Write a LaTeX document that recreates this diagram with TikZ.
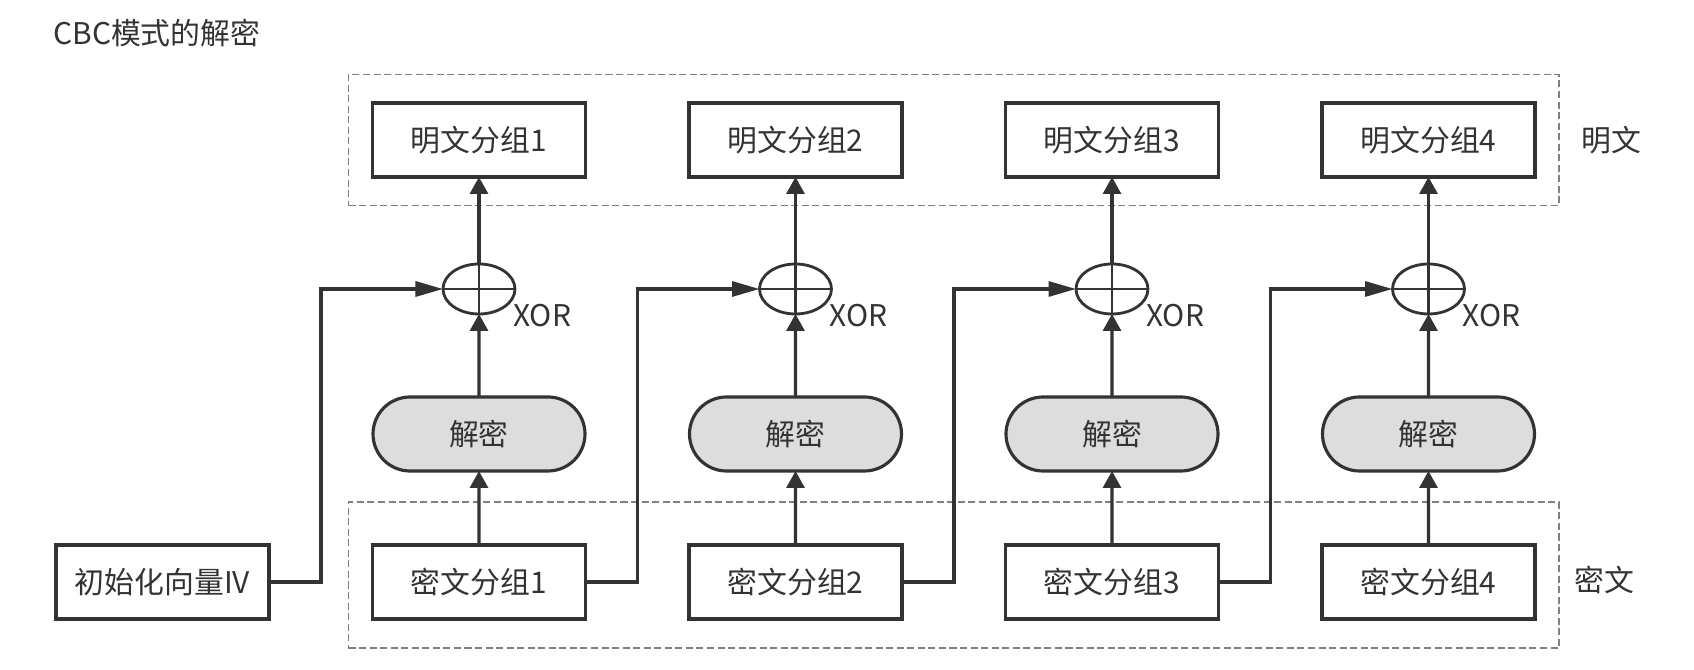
\documentclass[tikz,border=0pt]{standalone}
\usepackage{fontspec}
\setmainfont{Noto Sans CJK SC}
\usetikzlibrary{arrows.meta, positioning, shapes.geometric, shapes.misc, fit, calc, backgrounds}

\definecolor{ink}{HTML}{333333}
\definecolor{decfill}{HTML}{DDDDDD}

\begin{document}
\begin{tikzpicture}[
font=\fontsize{17pt}{20pt}\selectfont,
text=ink,
node distance=1.48cm and 2.07cm,
box/.style={draw=ink, line width=1.8pt, minimum width=4.26cm, minimum height=1.48cm, inner sep=0, outer sep=0},
decbox/.style={draw=ink, line width=1.8pt, fill=decfill, rounded rectangle, minimum width=4.24cm, minimum height=1.48cm, inner sep=0, outer sep=0},
xorop/.style={draw=ink, line width=1.6pt, ellipse, minimum width=1.44cm, minimum height=1cm, inner sep=0, outer sep=0,
  path picture={\draw[ink, line width=1.6pt] (path picture bounding box.west) -- (path picture bounding box.east)
    (path picture bounding box.north) -- (path picture bounding box.south);}},
xorlabel/.style={anchor=west, inner sep=0},
group/.style={draw=gray, dash pattern=on 4pt off 2pt, line width=0.6pt, inner xsep=0.48cm, outer sep=0},
arrow/.style={-{Triangle[length=3.4mm, width=3.6mm]}, draw=ink, line width=1.8pt},
feed/.style={-{Triangle[length=5.5mm, width=3mm]}, draw=ink, line width=1.8pt}
]
\useasboundingbox (-9.58,-1.76) rectangle (24.30,11.64);

\node[box] (c1) at (0,0) {密文分组1};
\node[box, right=of c1] (c2) {密文分组2};
\node[box, right=of c2] (c3) {密文分组3};
\node[box, right=of c3] (c4) {密文分组4};
\node[box, left=of c1] (iv) {初始化向量IV};

\node[decbox, above=of c1] (d1) {解密};
\node[decbox, above=of c2] (d2) {解密};
\node[decbox, above=of c3] (d3) {解密};
\node[decbox, above=of c4] (d4) {解密};

\node[xorop, above=1.66cm of d1] (x1) {};
\node[xorop, above=1.66cm of d2] (x2) {};
\node[xorop, above=1.66cm of d3] (x3) {};
\node[xorop, above=1.66cm of d4] (x4) {};

\node[xorlabel] (xl1) at ($(x1.center)+(0.68,-0.54)$) {XOR};
\node[xorlabel] (xl2) at ($(x2.center)+(0.68,-0.54)$) {XOR};
\node[xorlabel] (xl3) at ($(x3.center)+(0.68,-0.54)$) {XOR};
\node[xorlabel] (xl4) at ($(x4.center)+(0.68,-0.54)$) {XOR};

\node[box, above=1.74cm of x1] (p1) {明文分组1};
\node[box, above=1.74cm of x2] (p2) {明文分组2};
\node[box, above=1.74cm of x3] (p3) {明文分组3};
\node[box, above=1.74cm of x4] (p4) {明文分组4};

\coordinate (ctop) at ($(c1.north)+(0,0.28)$);
\begin{scope}[on background layer]
\node[group, inner ysep=0.57cm, fit=(p1)(p4)] (plain) {};
\node[group, inner ysep=0.58cm, fit=(c1)(c4)(ctop)] (cipher) {};
\end{scope}

\node[right=0.44cm of plain.east, inner sep=0] (plainlbl) {明文};
\node[right=0.3cm of cipher.east, inner sep=0, yshift=-0.1cm] (cipherlbl) {密文};

\node[anchor=west, inner sep=0] (title) at ($(iv.west |- p1.north)+(-0.06,1.4)$) {CBC模式的解密};

\draw[arrow] (c1) -- (d1);
\draw[arrow] (c2) -- (d2);
\draw[arrow] (c3) -- (d3);
\draw[arrow] (c4) -- (d4);

\draw[arrow] (d1) -- (x1);
\draw[arrow] (d2) -- (x2);
\draw[arrow] (d3) -- (x3);
\draw[arrow] (d4) -- (x4);

\draw[arrow] (x1) -- (p1);
\draw[arrow] (x2) -- (p2);
\draw[arrow] (x3) -- (p3);
\draw[arrow] (x4) -- (p4);

\draw[feed] (iv.east) -- ++(1.04,0) |- (x1.west);
\draw[feed] (c1.east) -- ++(1.04,0) |- (x2.west);
\draw[feed] (c2.east) -- ++(1.04,0) |- (x3.west);
\draw[feed] (c3.east) -- ++(1.04,0) |- (x4.west);

\end{tikzpicture}
\end{document}
